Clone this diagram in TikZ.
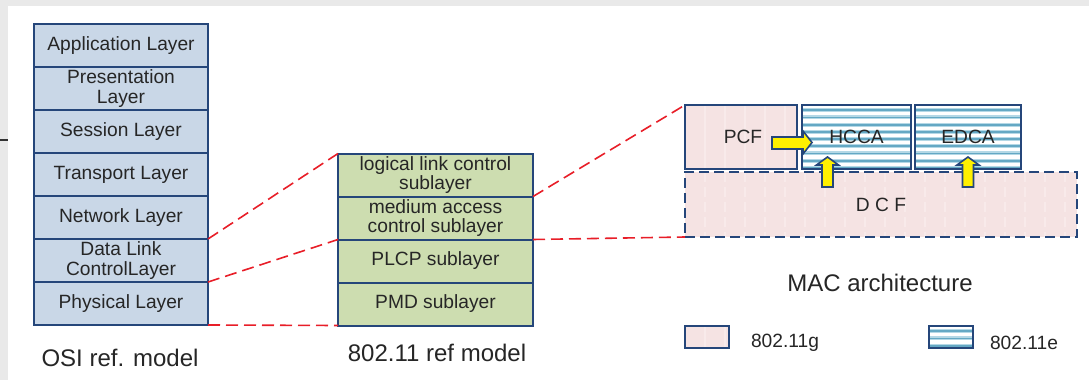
\documentclass[tikz,border=0pt]{standalone}
\usepackage{fontspec}
\setmainfont{Liberation Sans}
\usetikzlibrary{positioning}
\definecolor{osiblue}{RGB}{201,215,231}
\definecolor{frameblue}{RGB}{37,70,122}
\definecolor{subgreen}{RGB}{205,221,176}
\definecolor{macpink}{RGB}{245,227,227}
\definecolor{pinkline}{RGB}{248,234,234}
\definecolor{stripeblue}{RGB}{100,168,196}
\definecolor{stripelight}{RGB}{180,216,230}
\definecolor{txtgray}{RGB}{38,38,38}
\definecolor{bggray}{RGB}{233,233,233}
\definecolor{zoomred}{RGB}{232,30,40}
\definecolor{arrowyellow}{RGB}{255,240,0}
\tikzset{
    layer/.style={draw=frameblue, line width=1pt, fill=osiblue, minimum width=87pt,
        minimum height=21.5pt, inner sep=0pt, outer sep=0pt, align=center, text=txtgray,
        font=\fontsize{9.6}{10}\selectfont},
    sublayer/.style={layer, fill=subgreen, minimum width=97.5pt,
        font=\fontsize{9.6}{9.4}\selectfont},
    gfill/.style={fill=macpink, path picture={
        \foreach \k in {1,...,20}
            \draw[pinkline, line width=0.8pt]
                ([xshift=\k*10pt]path picture bounding box.north west) --
                ([xshift=\k*10pt]path picture bounding box.south west);}},
    efill/.style={fill=white, path picture={
        \foreach \k in {1,...,9}
            \draw[stripelight, line width=2pt, postaction={draw=stripeblue, line width=0.9pt}]
                ([yshift=-\k*3.6pt+1pt]path picture bounding box.north west) --
                ([yshift=-\k*3.6pt+1pt]path picture bounding box.north east);}},
    macbox/.style={layer, anchor=north west, minimum height=32pt, fill=none},
    caption/.style={text=txtgray, font=\fontsize{12}{14}\selectfont},
    legtext/.style={text=txtgray, anchor=west, font=\fontsize{9.6}{11}\selectfont},
    zoomline/.style={zoomred, line width=0.8pt, dash pattern=on 6pt off 3pt},
    yarrow/.style={fill=arrowyellow, draw=frameblue, line width=0.8pt, line join=miter}
}
\begin{document}
\begin{tikzpicture}[x=0.5pt, y=-0.5pt]
    \useasboundingbox (0,0) rectangle (1089,380);
    % Tlo
    \fill[white] (0,0) rectangle (1089,380);
    \fill[bggray] (0,0) rectangle (1089,6);
    \fill[bggray] (0,0) rectangle (8,380);
    \draw[black!80, line width=0.6pt] (0,140) -- (8,140);
    % Model OSI
    \node[layer] (app) at (121,45.5) {Application Layer};
    \node[layer, below=0pt of app] (pres) {Presentation\\Layer};
    \node[layer, below=0pt of pres] (sess) {Session Layer};
    \node[layer, below=0pt of sess] (trans) {Transport Layer};
    \node[layer, below=0pt of trans] (net) {Network Layer};
    \node[layer, below=0pt of net] (dll) {Data Link\\ControlLayer};
    \node[layer, below=0pt of dll] (phy) {Physical Layer};
    \node[caption] (osicap) at (120,358) {OSI ref. model};
    % Model 802.11
    \node[sublayer] (llc) at (435.5,175) {logical link control\\sublayer};
    \node[sublayer, below=0pt of llc] (mac) {medium access\\control sublayer};
    \node[sublayer, below=0pt of mac] (plcp) {PLCP sublayer};
    \node[sublayer, below=0pt of plcp] (pmd) {PMD sublayer};
    \node[caption] (refcap) at (437,353) {802.11 ref model};
    % Architektura MAC
    \node[macbox, gfill, minimum width=56pt] (pcf) at (685,105) {};
    \node[macbox, efill, minimum width=54.5pt, right=2.5pt of pcf] (hcca) {};
    \node[macbox, efill, minimum width=53pt, right=2pt of hcca] (edca) {};
    \node[macbox, gfill, dash pattern=on 5pt off 2.5pt, minimum width=196pt,
        minimum height=32.5pt] (dcf) at (685,172) {};
    \node[text=txtgray, font=\fontsize{9.6}{11}\selectfont] at (743,137) {PCF};
    \node[text=txtgray, font=\fontsize{9.6}{11}\selectfont] at (hcca) {HCCA};
    \node[text=txtgray, font=\fontsize{9.6}{11}\selectfont] at (edca) {EDCA};
    \node[text=txtgray, font=\fontsize{9.6}{11}\selectfont] at (dcf) {D C F};
    % Strzalki
    \draw[yarrow] (772,137) -- (803,137) -- (803,131) -- (812,142.5) -- (803,154)
        -- (803,149) -- (772,149) -- cycle;
    \foreach \cx in {827.5,968}
        \draw[yarrow] (\cx-5.5,187) -- (\cx-5.5,165) -- (\cx-11,165) -- (\cx,157)
            -- (\cx+11,165) -- (\cx+5.5,165) -- (\cx+5.5,187) -- cycle;
    \node[caption] (maccap) at (880,283) {MAC architecture};
    % Legenda
    \node[layer, gfill, anchor=north west, minimum width=22pt, minimum height=11pt] (leggbox) at (685,326) {};
    \node[legtext] (legg) at (744,343) {802.11g};
    \node[layer, efill, anchor=north west, minimum width=22pt, minimum height=11pt] (legebox) at (929,326) {};
    \node[legtext] (lege) at (983,343) {802.11e};
    % Linie powiekszenia
    \draw[zoomline] (dll.north east) -- (llc.north west);
    \draw[zoomline] (dll.south east) -- (mac.south west);
    \draw[zoomline] (phy.south east) -- (pmd.south west);
    \draw[zoomline] (llc.south east) -- (pcf.north west);
    \draw[zoomline] (mac.south east) -- (dcf.south west);
\end{tikzpicture}
\end{document}
